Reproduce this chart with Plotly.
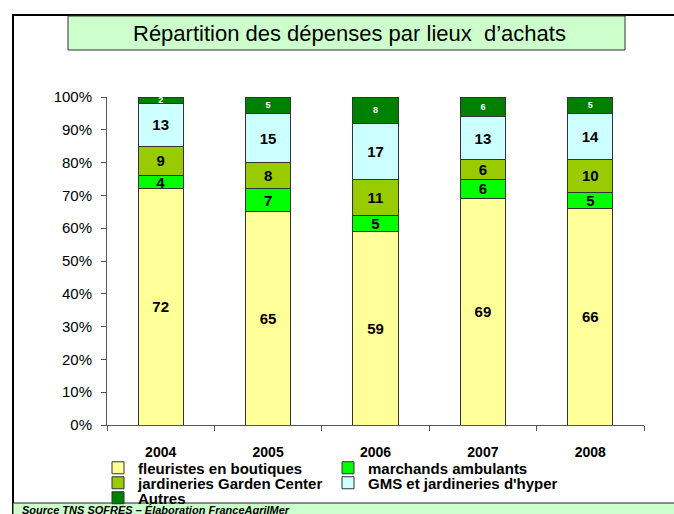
import plotly.graph_objects as go

years = ["2004", "2005", "2006", "2007", "2008"]
fleuristes = [72, 65, 59, 69, 66]
marchands = [4, 7, 5, 6, 5]
jardineries = [9, 8, 11, 6, 10]
gms = [13, 15, 17, 13, 14]
autres = [2, 5, 8, 6, 5]
y_ticks = [0, 10, 20, 30, 40, 50, 60, 70, 80, 90, 100]
y_tick_labels = [f"{v}%" for v in y_ticks]

# name, values, colour, label colour, label size, legend group (row)
series = [
    ("fleuristes en boutiques", fleuristes, "#FFFF99", "black", 15, "legend"),
    ("marchands ambulants", marchands, "#00FF00", "black", 15, "legend"),
    ("jardineries Garden Center", jardineries, "#99CC00", "black", 15, "legend2"),
    ("GMS et jardineries d'hyper", gms, "#CCFFFF", "black", 15, "legend2"),
    ("Autres", autres, "#008000", "white", 9, "legend3"),
]

FONT = "Arial, Liberation Sans, sans-serif"

fig = go.Figure()
for name, vals, col, tcol, tsize, leg in series:
    fig.add_trace(go.Bar(
        x=years, y=vals, name=name, legend=leg,
        marker=dict(color=col, line=dict(color="#333333", width=1)),
        text=[str(v) for v in vals],
        textposition="inside", insidetextanchor="middle",
        constraintext="none", textangle=0,
        textfont=dict(family=FONT, size=tsize, color=tcol, weight="bold"),
        width=0.42,
        hoverinfo="skip",
    ))

L, T, W, H = 107, 97, 537, 328
FW, FH = 674, 514
def px(x):
    return (x - L) / W
def py(y):
    return (T + H - y) / H

shapes = [
    # outer frame
    dict(type="rect", xref="paper", yref="paper", x0=px(13), x1=px(690), y0=py(530), y1=py(15),
         line=dict(color="black", width=2), fillcolor="rgba(0,0,0,0)", layer="below"),
    # title box
    dict(type="rect", xref="paper", yref="paper", x0=px(68), x1=px(625), y0=py(50), y1=py(16),
         line=dict(color="#333333", width=1), fillcolor="#CCFFCC", layer="below"),
    # source band
    dict(type="rect", xref="paper", yref="paper", x0=px(13), x1=px(690), y0=py(530), y1=py(503),
         line=dict(color="#222222", width=1), fillcolor="#CCFFCC", layer="below"),
]

annotations = [
    dict(text="Répartition des dépenses par lieux  d’achats", xref="paper", yref="paper",
         x=px(349), y=py(33), showarrow=False, xanchor="center", yanchor="middle",
         font=dict(family=FONT, size=22, color="black")),
    dict(text="<b><i>Source TNS SOFRES – Élaboration FranceAgrilMer</i></b>", xref="paper", yref="paper",
         x=px(20), y=py(502), showarrow=False, xanchor="left", yanchor="top",
         font=dict(family=FONT, size=11, color="black")),
]

def leg(yc):
    return dict(orientation="h", xref="container", yref="container",
                x=98 / FW, y=1 - yc / FH, xanchor="left", yanchor="middle",
                entrywidth=185, entrywidthmode="pixels", traceorder="normal",
                font=dict(family=FONT, size=15, color="black", weight="bold"),
                bgcolor="rgba(0,0,0,0)", itemclick=False, borderwidth=0)

fig.update_layout(
    width=FW, height=FH,
    margin=dict(l=L, r=FW - L - W, t=T, b=FH - T - H, autoexpand=False),
    barmode="stack",
    paper_bgcolor="white", plot_bgcolor="white",
    font=dict(family=FONT, color="black"),
    showlegend=True,
    legend=leg(468),
    legend2=leg(483),
    legend3=leg(498),
    shapes=shapes,
    annotations=annotations,
    xaxis=dict(showline=True, linecolor="#555555", linewidth=1, ticks="outside",
               tickson="boundaries", ticklen=5, tickcolor="#555555",
               tickfont=dict(family=FONT, size=14, color="black", weight="bold"),
               ticklabelstandoff=14, showgrid=False),
    yaxis=dict(range=[0, 100], tickmode="array", tickvals=y_ticks, ticktext=y_tick_labels,
               showline=True, linecolor="#555555", linewidth=1,
               ticks="outside", ticklen=5, tickcolor="#555555", showgrid=False,
               ticklabelstandoff=6,
               tickfont=dict(family=FONT, size=15, color="black"), zeroline=False),
)

fig.write_html("out.html", config={"displayModeBar": False},
               post_script="document.body.style.margin='0';document.body.style.overflow='hidden';")
